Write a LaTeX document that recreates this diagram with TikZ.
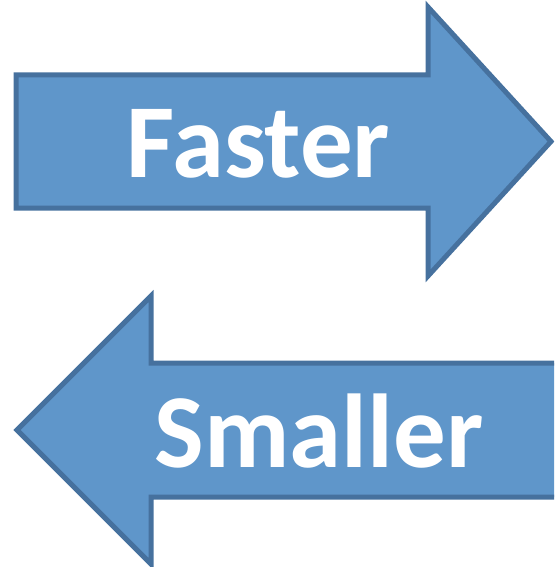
\documentclass[tikz,border=0pt]{standalone}
\usepackage{fontspec}
\setmainfont{Carlito}
\definecolor{arrowfill}{HTML}{5F96CA}
\definecolor{arrowline}{HTML}{46719E}
\begin{document}
\begin{tikzpicture}[x=1pt,y=-1pt,
  bigarrow/.style={fill=arrowfill,draw=arrowline,line width=5pt,line join=miter},
  arrowtext/.style={text=white,font=\fontsize{105}{105}\selectfont\bfseries,anchor=base,inner sep=0pt}]
\useasboundingbox (0,0) rectangle (554,567);
\clip (0,0) rectangle (554,567);
% top arrow (pointing right)
\path[bigarrow] (16,75) -- (428,75) -- (428,7) -- (551,141.5) -- (428,276) -- (428,208) -- (16,208) -- cycle;
% bottom arrow (pointing left)
\path[bigarrow] (17,430) -- (151,296) -- (151,363) -- (600,363) -- (600,497) -- (151,497) -- (151,564) -- cycle;
\node[arrowtext] (faster) at (258.5,177) {Faster};
\node[arrowtext] (smaller) at (319,467) {Smaller};
\end{tikzpicture}
\end{document}
